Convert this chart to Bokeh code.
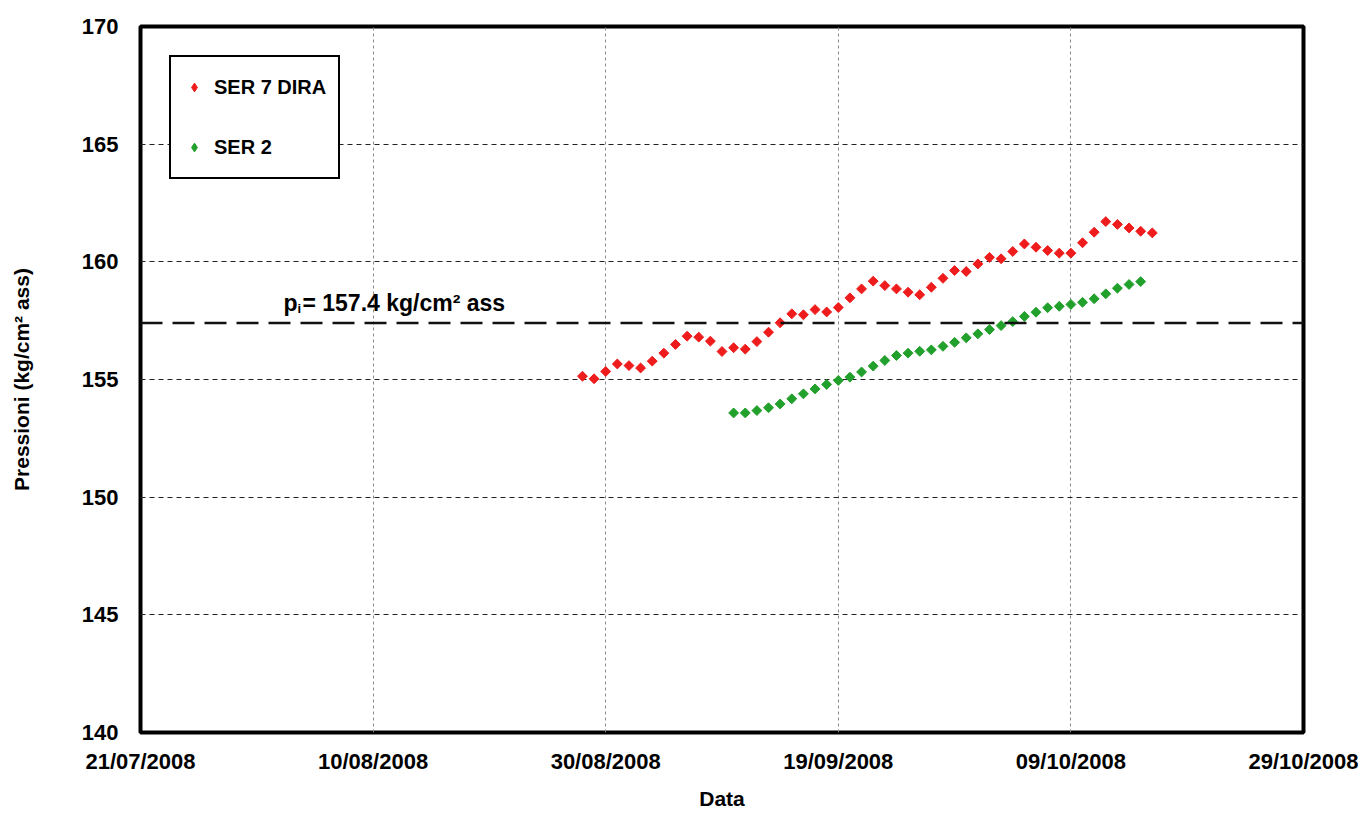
from datetime import datetime, timedelta
import numpy as np
import pandas as pd
from bokeh.plotting import figure
from bokeh.models import (Range1d, FixedTicker, DatetimeTickFormatter, Span,
                          Legend, LegendItem, ColumnDataSource, Label)
from bokeh.embed import file_html
from bokeh.resources import INLINE

# ---------------- data ----------------
x_start = "2008-07-21"
x_end = "2008-10-29"
tick_dates = ["2008-07-21", "2008-08-10", "2008-08-30", "2008-09-19", "2008-10-09", "2008-10-29"]
y_ticks = [140, 145, 150, 155, 160, 165, 170]

red_name = "SER 7 DIRA"
red_start = "2008-08-28"
red_values = [155.14, 155.03, 155.34, 155.66, 155.59, 155.49, 155.78, 156.12, 156.49, 156.84,
              156.80, 156.63, 156.19, 156.35, 156.29, 156.61, 157.01, 157.41, 157.79, 157.75,
              157.97, 157.87, 158.06, 158.47, 158.85, 159.18, 158.99, 158.85, 158.71, 158.60,
              158.92, 159.30, 159.63, 159.59, 159.91, 160.19, 160.13, 160.44, 160.76, 160.62,
              160.48, 160.37, 160.37, 160.81, 161.26, 161.71, 161.59, 161.44, 161.30, 161.23]

green_name = "SER 2"
green_start = "2008-09-10"
green_values = [153.58, 153.58, 153.68, 153.80, 153.96, 154.18, 154.39, 154.60, 154.79, 154.96,
                155.10, 155.32, 155.57, 155.81, 156.02, 156.12, 156.20, 156.26, 156.41, 156.58,
                156.77, 156.94, 157.12, 157.29, 157.46, 157.68, 157.86, 158.05, 158.11, 158.19,
                158.28, 158.43, 158.64, 158.88, 159.04, 159.16]

p_initial = 157.4
annot_date = "2008-08-02 07:00"
annot_y = 158.25

# ---------------- helpers ----------------
def ms(d):
    return pd.Timestamp(d).value // 10**6

FONT = "Liberation Sans"
RED = "#ee1c1c"
GREEN = "#22a02c"

red_src = ColumnDataSource(dict(x=pd.date_range(red_start, periods=len(red_values), freq="D"),
                                y=red_values))
green_src = ColumnDataSource(dict(x=pd.date_range(green_start, periods=len(green_values), freq="D"),
                                  y=green_values))

p = figure(width=1361, height=814, x_axis_type="datetime",
           x_range=Range1d(ms(x_start), ms(x_end)), y_range=Range1d(140, 170),
           output_backend="svg", toolbar_location=None,
           min_border_left=140, min_border_right=58, min_border_top=26, min_border_bottom=82)

p.background_fill_color = "white"
p.border_fill_color = "white"
p.outline_line_color = "black"
p.outline_line_width = 4

# axes
p.xaxis.ticker = FixedTicker(ticks=[ms(d) for d in tick_dates])
fmt = "%d/%m/%Y"
p.xaxis.formatter = DatetimeTickFormatter(milliseconds=fmt, seconds=fmt, minsec=fmt, minutes=fmt,
                                          hourmin=fmt, hours=fmt, days=fmt, months=fmt, years=fmt)
p.yaxis.ticker = FixedTicker(ticks=y_ticks)
for ax in (p.xaxis[0], p.yaxis[0]):
    ax.axis_line_color = None
    ax.major_tick_line_color = None
    ax.minor_tick_line_color = None
    ax.major_tick_out = 0
    ax.major_label_text_font = FONT
    ax.major_label_text_font_style = "bold"
    ax.major_label_text_font_size = "22px"
    ax.major_label_text_color = "black"
    ax.axis_label_text_font = FONT
    ax.axis_label_text_font_style = "bold"
    ax.axis_label_text_font_size = "21px"
    ax.axis_label_text_color = "black"

p.xaxis.axis_label = "Data"
p.yaxis.axis_label = "Pressioni (kg/cm² ass)"
p.xaxis.major_label_standoff = 16
p.xaxis.axis_label_standoff = 10
p.yaxis.major_label_standoff = 22
p.yaxis.axis_label_standoff = 46

# grids
p.xgrid.ticker = p.xaxis.ticker
p.xgrid.grid_line_color = "#8a8a8a"
p.xgrid.grid_line_dash = "3 3"
p.xgrid.grid_line_width = 1
p.ygrid.grid_line_color = "#222222"
p.ygrid.grid_line_dash = "5 4"
p.ygrid.grid_line_width = 1.2

# initial pressure line
p.add_layout(Span(location=p_initial, dimension="width", line_color="#111111",
                  line_dash="22 10", line_width=2.5))

# data
r_red = p.scatter("x", "y", source=red_src, marker="square", size=7, angle=np.pi / 4,
                  fill_color=RED, line_color=RED)
r_green = p.scatter("x", "y", source=green_src, marker="square", size=7, angle=np.pi / 4,
                    fill_color=GREEN, line_color=GREEN)

# legend swatches (diamond shape; a single NaN point, never drawn in the plot)
leg_red = p.scatter(x=[np.nan], y=[np.nan], marker="diamond", fill_color=RED, line_color=RED)
leg_green = p.scatter(x=[np.nan], y=[np.nan], marker="diamond", fill_color=GREEN, line_color=GREEN)

# annotation  p_i = 157.4 kg/cm2 ass
ax_ms = ms(annot_date)
p.add_layout(Label(x=ax_ms, y=annot_y, text="p", text_font=FONT, text_font_style="bold",
                   text_font_size="23px", text_baseline="alphabetic", text_color="black"))
p.add_layout(Label(x=ax_ms, y=annot_y, x_offset=14, y_offset=-5, text="i", text_font=FONT,
                   text_font_style="bold", text_font_size="13px", text_baseline="alphabetic",
                   text_color="black"))
p.add_layout(Label(x=ax_ms, y=annot_y, x_offset=19, text=f"= {p_initial} kg/cm² ass",
                   text_font=FONT, text_font_style="bold", text_font_size="23px",
                   text_baseline="alphabetic", text_color="black"))

# legend
legend = Legend(items=[LegendItem(label=red_name, renderers=[leg_red], index=0),
                       LegendItem(label=green_name, renderers=[leg_green], index=0)],
                location="top_left")
legend.margin = 29
legend.padding = 12
legend.spacing = 24
legend.glyph_width = 22
legend.glyph_height = 36
legend.label_height = 36
legend.label_standoff = 9
legend.label_text_font = FONT
legend.label_text_font_style = "bold"
legend.label_text_font_size = "20px"
legend.label_text_color = "black"
legend.border_line_color = "black"
legend.border_line_alpha = 1
legend.border_line_width = 2
legend.background_fill_color = "white"
legend.background_fill_alpha = 1
p.add_layout(legend)

open("out.html", "w").write(file_html(p, INLINE))
